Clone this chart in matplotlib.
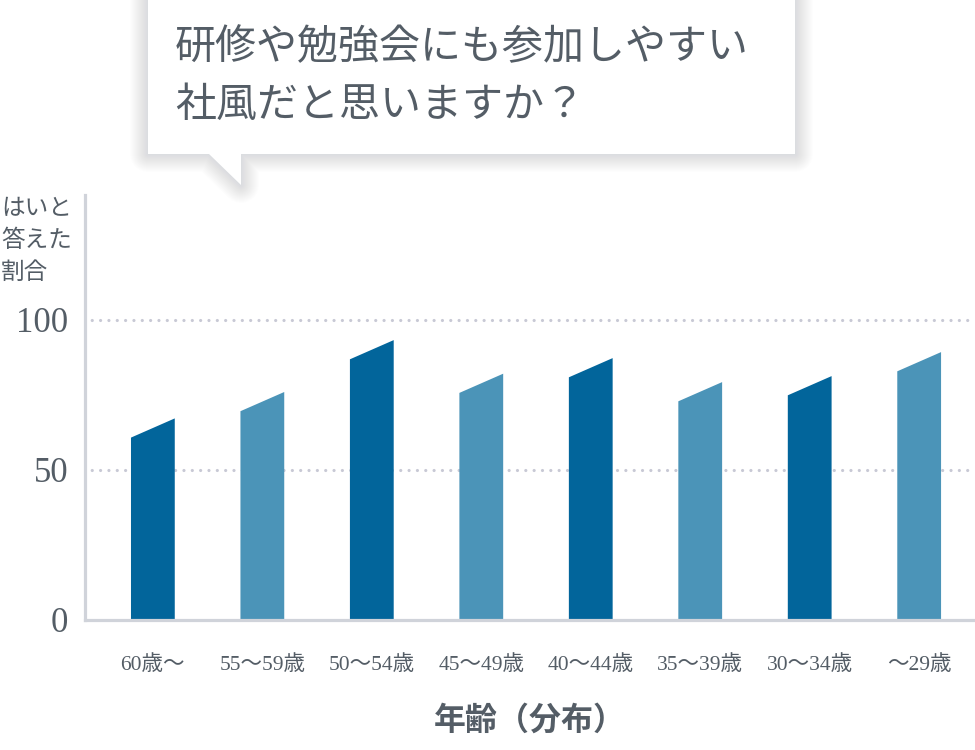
import matplotlib
matplotlib.use("Agg")
import matplotlib.pyplot as plt
from matplotlib.patches import Polygon

# ---- data ----
categories = ["60歳～", "55～59歳", "50～54歳", "45～49歳", "40～44歳", "35～39歳", "30～34歳", "～29歳"]
values = [67.2, 76.0, 93.3, 82.1, 87.3, 79.3, 81.3, 89.3]   # height at right edge of each bar (%)
yticks = [0, 50, 100]
title_lines = ["研修や勉強会にも参加しやすい", "社風だと思いますか？"]
ylabel_lines = ["はいと", "答えた", "割合"]
xlabel = "年齢（分布）"

# ---- style ----
DARK = "#02659b"
LIGHT = "#4b94b8"
TEXT = "#545d66"
AXIS = "#d0d3da"
GRID = "#c8c9d5"
SLANT = 6.4
BAR_W = 0.40
SERIF_JP = ["Liberation Serif", "Noto Sans CJK JP"]
JP = ["Noto Sans CJK JP", "DejaVu Sans"]

W, H = 975, 750
fig = plt.figure(figsize=(W / 100, H / 100), dpi=100)
fig.patch.set_facecolor("white")

# overlay (pixel coordinates) for the speech bubble
ov = fig.add_axes([0, 0, 1, 1], zorder=0)
ov.set_xlim(0, W)
ov.set_ylim(H, 0)
ov.axis("off")
bubble = [(148, -2), (795, -2), (795, 154), (241, 154), (241, 185), (209, 154), (148, 154)]
for lw in range(36, 0, -2):
    ov.add_patch(Polygon(bubble, closed=True, facecolor="none",
                         edgecolor=(0.35, 0.38, 0.40, 0.009), lw=lw * 0.72,
                         joinstyle="round"))
ov.add_patch(Polygon(bubble, closed=True, facecolor="white", edgecolor="none"))
ov.text(175, 48, title_lines[0], family=JP, fontsize=29.5, color=TEXT,
        va="center", ha="left")
ov.text(175, 105, title_lines[1], family=JP, fontsize=29.5, color=TEXT,
        va="center", ha="left")
for k, line in enumerate(ylabel_lines):
    ov.text(1, 209 + 31.5 * k, line, family=JP, fontsize=17, color=TEXT,
            va="center", ha="left")

# main axes
ax = fig.add_axes([85 / W, (H - 620) / H, (975 - 85) / W, (620 - 195) / H], zorder=1)
ax.patch.set_alpha(0)
colors = [DARK if i % 2 == 0 else LIGHT for i in range(len(values))]
for i, (v, c) in enumerate(zip(values, colors)):
    xs = [i - BAR_W / 2, i - BAR_W / 2, i + BAR_W / 2, i + BAR_W / 2]
    ys = [0, v - SLANT, v, 0]
    ax.fill(xs, ys, color=c, lw=0, zorder=2)

for t in yticks[1:]:
    ax.axhline(t, color=GRID, lw=2.3, linestyle=(0.5, (0.01, 2.6)),
               dash_capstyle="round", zorder=1)

ax.set_xlim(-0.62, 7.51)
ax.set_ylim(0, (620 - 195) / 3.0)
ax.set_yticks(yticks)
ax.set_yticklabels([str(t) for t in yticks], family=SERIF_JP, fontsize=25, color=TEXT)
ax.set_xticks(range(len(categories)))
ax.set_xticklabels(categories, family=SERIF_JP, fontsize=15.5, color=TEXT)
ax.tick_params(axis="y", length=0, pad=12)
ax.tick_params(axis="x", length=0, pad=25)
for s in ["top", "right"]:
    ax.spines[s].set_visible(False)
for s in ["left", "bottom"]:
    ax.spines[s].set_color(AXIS)
    ax.spines[s].set_linewidth(2.3)
    ax.spines[s].set_zorder(3)
ax.set_xlabel(xlabel, family=JP, fontsize=23, fontweight="bold", color=TEXT, labelpad=22)

fig.savefig("out.png", dpi=100, facecolor="white")
